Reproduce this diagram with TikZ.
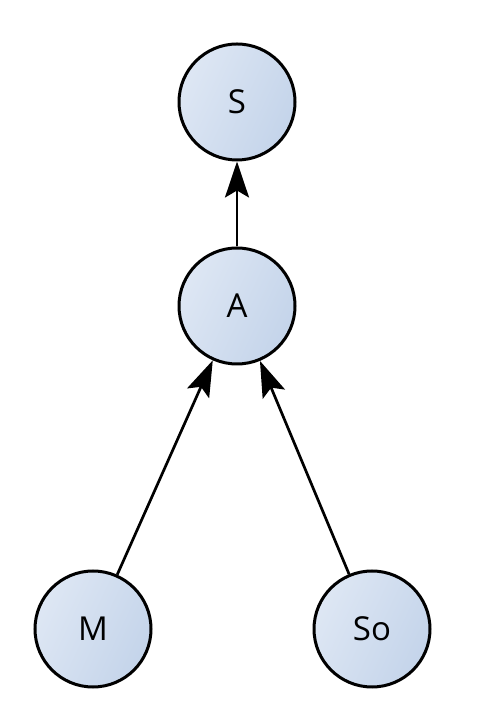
\documentclass[tikz,border=0pt]{standalone}
\usepackage{fontspec}
\setmainfont{Open Sans}
\usepackage{tikz}
\usetikzlibrary{arrows.meta,positioning}

\definecolor{nodelight}{HTML}{DEE7F4}
\definecolor{nodedark}{HTML}{C4D4EA}

\begin{document}
\begin{tikzpicture}[x=1pt,y=1pt,>={Stealth[length=36pt,width=24pt,inset=7pt]},
        every node/.style={circle,draw,line width=3pt,minimum size=116pt,inner sep=0pt,
          top color=nodelight,bottom color=nodedark,shading angle=65,
          font=\fontsize{33}{40}\selectfont}]
        \useasboundingbox (0,0) rectangle (492,720);
        \node at (237,618) (s) {S};
        \node [below=85pt of s] (a) {A};
        \node [below=204pt of a,xshift=-144pt] (m) {M};
        \node [below=204pt of a,xshift=135pt] (so) {So};
        \draw [->,line width=2.7pt] (a) -- (s);
        \draw [->,line width=2.7pt] (m) -- (a);
        \draw [->,line width=2.7pt] (so) -- (a);
        \end{tikzpicture}
\end{document}
